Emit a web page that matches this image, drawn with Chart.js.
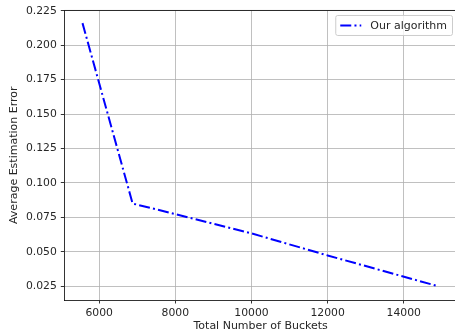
<!DOCTYPE html>
<html>
<head>
<meta charset="utf-8">
<script src="https://cdn.jsdelivr.net/npm/chart.js@4"></script>
<style>
  html, body { margin: 0; padding: 0; background: #fff; overflow: hidden; }
  #wrap { width: 457px; height: 335px; }
</style>
</head>
<body>
<div id="wrap"><canvas id="errChart"></canvas></div>
<script>
// values
const bucketCounts = [5560, 6877, 8000, 10000, 12000, 14890];
const avgErrors = [0.2161, 0.085, 0.0773, 0.0633, 0.0473, 0.025];
const seriesLabel = 'Our algorithm';

const xTicks = [6000, 8000, 10000, 12000, 14000];
const yTicks = [0.025, 0.05, 0.075, 0.1, 0.125, 0.15, 0.175, 0.2, 0.225];

const FONT = 'DejaVu Sans';
const TXT = '#262626';

// top spine + matplotlib style framed legend in the upper right
const frameLegend = {
    id: 'frameLegend',
    afterDraw(chart) {
        const ctx = chart.ctx;
        const area = chart.chartArea;
        const ds = chart.data.datasets[0];
        ctx.save();
        ctx.strokeStyle = '#000';
        ctx.lineWidth = 0.8;
        ctx.beginPath();
        ctx.moveTo(area.left, area.top);
        ctx.lineTo(area.right, area.top);
        ctx.stroke();

        ctx.font = '11px "' + FONT + '"';
        const textW = ctx.measureText(ds.label).width;
        const w = textW + 40;
        const h = 20;
        const x = area.right - 5 - w;
        const y = area.top + 4.5;
        ctx.fillStyle = 'rgba(255,255,255,0.8)';
        ctx.strokeStyle = '#cccccc';
        ctx.lineWidth = 1;
        ctx.beginPath();
        ctx.roundRect(x + 0.5, y + 0.5, w, h, 2);
        ctx.fill();
        ctx.stroke();
        ctx.strokeStyle = ds.borderColor;
        ctx.lineWidth = ds.borderWidth;
        ctx.setLineDash(ds.borderDash);
        ctx.beginPath();
        ctx.moveTo(x + 5, y + h / 2 + 0.5);
        ctx.lineTo(x + 26, y + h / 2 + 0.5);
        ctx.stroke();
        ctx.setLineDash([]);
        ctx.fillStyle = TXT;
        ctx.textBaseline = 'middle';
        ctx.fillText(ds.label, x + 35, y + h / 2 + 1);
        ctx.restore();
    }
};

new Chart(document.getElementById('errChart'), {
    type: 'scatter',
    data: {
        datasets: [{
            label: seriesLabel,
            data: bucketCounts.map((b, i) => ({ x: b, y: avgErrors[i] })),
            showLine: true,
            borderColor: '#0000ff',
            backgroundColor: '#0000ff',
            borderWidth: 2,
            borderDash: [11, 3.2, 2, 3.2],
            pointRadius: 0,
            tension: 0
        }]
    },
    options: {
        responsive: true,
        maintainAspectRatio: false,
        animation: false,
        layout: { padding: { top: 8, right: 0, left: 0, bottom: 0 } },
        plugins: { legend: { display: false }, tooltip: { enabled: false } },
        scales: {
            x: {
                type: 'linear',
                min: 5082,
                max: 15400,
                afterBuildTicks: s => { s.ticks = xTicks.map(v => ({ value: v })); },
                afterFit: s => { s.height = 35; },
                ticks: { color: TXT, font: { family: FONT, size: 10.8 }, padding: 3, maxRotation: 0, callback: v => String(v) },
                grid: { color: '#b0b0b0', lineWidth: 0.8, tickLength: 3.5, tickColor: '#000', tickWidth: 0.8 },
                border: { color: '#000', width: 0.8 },
                title: { display: true, text: 'Total Number of Buckets', color: TXT, font: { family: FONT, size: 11 }, padding: { top: 0, bottom: 2 } }
            },
            y: {
                type: 'linear',
                min: 0.0149,
                max: 0.2253,
                afterBuildTicks: s => { s.ticks = yTicks.map(v => ({ value: v })); },
                afterFit: s => { s.width = 64.3; },
                ticks: { color: TXT, font: { family: FONT, size: 10.8 }, padding: 4, callback: v => v.toFixed(3) },
                grid: { color: '#b0b0b0', lineWidth: 0.8, tickLength: 3.5, tickColor: '#000', tickWidth: 0.8 },
                border: { color: '#000', width: 0.8 },
                title: { display: true, text: 'Average Estimation Error', color: TXT, font: { family: FONT, size: 11 }, padding: { top: 8, bottom: 0 } }
            }
        }
    },
    plugins: [frameLegend]
});
</script>
</body>
</html>
